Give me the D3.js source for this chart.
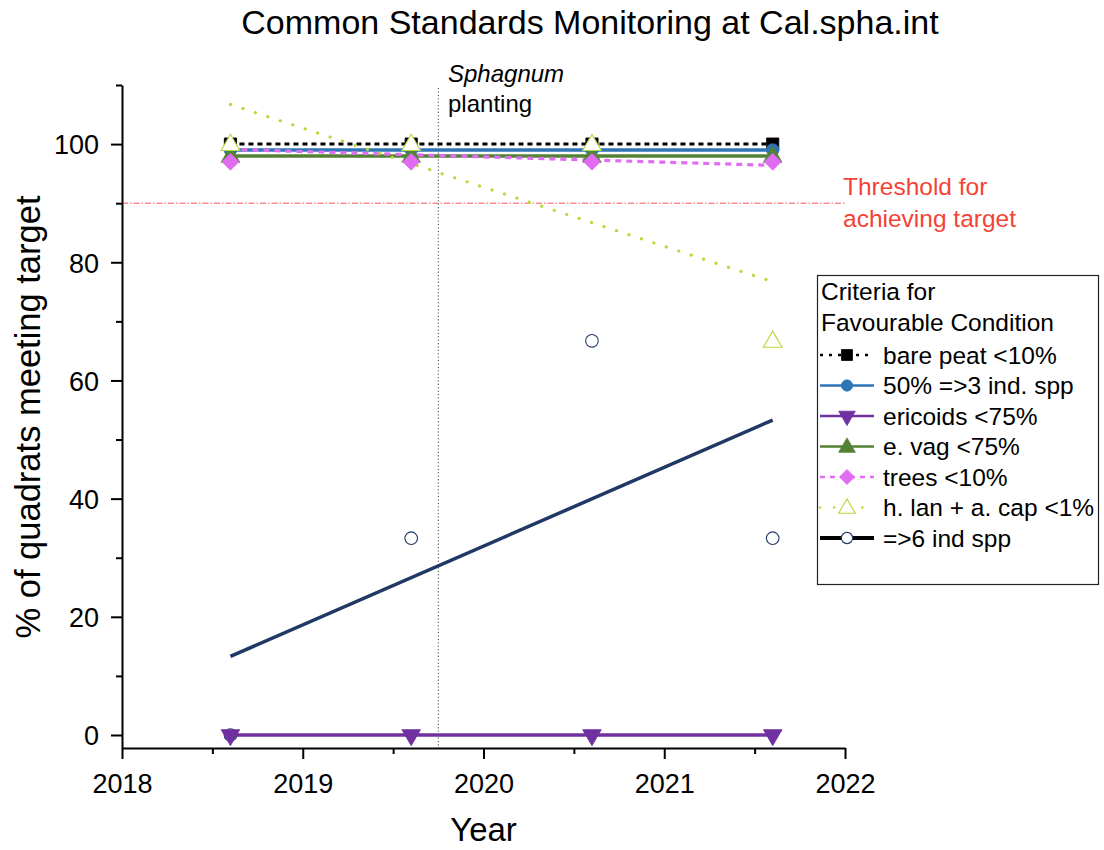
<!DOCTYPE html>
<html><head><meta charset="utf-8">
<script src="https://cdn.jsdelivr.net/npm/d3@7"></script>
<style>
html,body{margin:0;padding:0;background:#fff;}
svg{display:block;font-family:"Liberation Sans",Arial,sans-serif;}
</style></head>
<body>
<svg id="chart" width="1104" height="850"></svg>
<script>
// ---- data ----
const years = [2018.6, 2019.6, 2020.6, 2021.6];
const barePeat = [100, 100, 100, 100];
const threeIndSpp = [99, 99, 99, 99];
const ericoids = [0, 0, 0, 0];
const eVag = [98, 98, 98, 98];
const trees = [97, 97, 97, 97];
const hLanACap = [100, 100, 100, 66.7];
const sixIndSpp = [0, 33.3, 66.7, 33.3];
// fitted trend lines (endpoints at first/last survey)
const trendYears = [2018.6, 2021.6];
const treesTrend = [99.1, 96.4];
const hLanTrend = [106.7, 76.7];
const sixIndTrend = [13.3, 53.3];
const xTicks = [2018, 2019, 2020, 2021, 2022];
const xMinor = [2018.5, 2019.5, 2020.5, 2021.5];
const yTicks = [0, 20, 40, 60, 80, 100];
const yMinor = [10, 30, 50, 70, 90, 110];
const threshold = 90;
const plantingYear = 2019.75;
const legendNames = ["bare peat <10%", "50% =>3 ind. spp", "ericoids <75%", "e. vag <75%", "trees <10%", "h. lan + a. cap <1%", "=>6 ind spp"];

// ---- layout ----
const svg = d3.select("#chart");
const x = d3.scaleLinear().domain([2018, 2022]).range([122, 845]);
const y = d3.scaleLinear().domain([-2.2, 110]).range([748, 85]);

const series = [
  {name: legendNames[0], vals: barePeat, lx: years, ly: barePeat, color: "#000", dash: "5,4", lw: 3, shape: "square", fill: "#000", ld: "3,6", order: 1},
  {name: legendNames[1], vals: threeIndSpp, lx: years, ly: threeIndSpp, color: "#2e75b6", dash: null, lw: 3.5, shape: "circle", fill: "#2e75b6", order: 2},
  {name: legendNames[2], vals: ericoids, lx: years, ly: ericoids, color: "#7030a0", dash: null, lw: 3.5, shape: "tridown", fill: "#7030a0", order: 3},
  {name: legendNames[3], vals: eVag, lx: years, ly: eVag, color: "#548235", dash: null, lw: 3.5, shape: "triup", fill: "#548235", order: 4},
  {name: legendNames[4], vals: trees, lx: trendYears, ly: treesTrend, color: "#e06cf2", dash: "6,5", lw: 3.2, shape: "diamond", fill: "#e06cf2", ld: "5,5", order: 5},
  {name: legendNames[5], vals: hLanACap, lx: trendYears, ly: hLanTrend, color: "#b8d83a", dash: "0.1,13", lw: 3.2, shape: "triup", fill: "#fff", open: true, round: true, ld: "0.1,14", order: 6},
  {name: legendNames[6], vals: sixIndSpp, lx: trendYears, ly: sixIndTrend, color: "#203864", dash: null, lw: 3.5, shape: "circle", fill: "#fff", open: true, legendLine: "#000", legendLw: 4, order: 0}
];

function shapePath(shape, s) {
  const sym = {square: d3.symbolSquare, circle: d3.symbolCircle, triup: d3.symbolTriangle, tridown: d3.symbolTriangle, diamond: d3.symbolSquare}[shape];
  return d3.symbol().type(sym).size(s)();
}
function markerTransform(shape, cx, cy) {
  if (shape === "tridown") return `translate(${cx},${cy}) rotate(180)`;
  if (shape === "diamond") return `translate(${cx},${cy}) rotate(45)`;
  if (shape === "triup") return `translate(${cx},${cy + 1})`;
  return `translate(${cx},${cy})`;
}
const sizes = {square: 150, circle: 125, triup: 150, tridown: 150, diamond: 140};

// threshold line
svg.append("line").attr("x1", x(2018)).attr("x2", x(2022))
  .attr("y1", y(threshold)).attr("y2", y(threshold))
  .attr("stroke", "#f55").attr("stroke-width", 1).attr("stroke-dasharray", "6,2,1.5,2");

// planting line
svg.append("line").attr("x1", x(plantingYear)).attr("x2", x(plantingYear))
  .attr("y1", 88).attr("y2", y(-2.2))
  .attr("stroke", "#444").attr("stroke-width", 1).attr("stroke-dasharray", "1.2,2.2");

// axes
const gx = svg.append("g").attr("transform", `translate(0,${y(-2.2)})`);
gx.call(d3.axisBottom(x).tickValues(xTicks).tickFormat(d3.format("d")).tickSize(11).tickSizeOuter(0).tickPadding(8));
const gxm = svg.append("g").attr("transform", `translate(0,${y(-2.2)})`);
gxm.call(d3.axisBottom(x).tickValues(xMinor).tickFormat("").tickSize(6).tickSizeOuter(0));
gxm.select(".domain").remove();

const gy = svg.append("g").attr("transform", `translate(${x(2018)},0)`);
gy.call(d3.axisLeft(y).tickValues(yTicks).tickSize(11).tickSizeOuter(0).tickPadding(12));
const gym = svg.append("g").attr("transform", `translate(${x(2018)},0)`);
gym.call(d3.axisLeft(y).tickValues(yMinor).tickFormat("").tickSize(6).tickSizeOuter(0));
gym.select(".domain").remove();

svg.selectAll(".domain").attr("stroke", "#000").attr("stroke-width", 2);
svg.selectAll(".tick line").attr("stroke", "#000").attr("stroke-width", 2);
svg.selectAll(".tick text").attr("font-size", 27).attr("font-family", '"Liberation Sans",Arial,sans-serif').attr("fill", "#000");
gx.selectAll(".tick text").attr("dy", "0.95em");
gy.selectAll(".tick text").attr("dy", "0.36em");

// series lines
const line = d3.line().x(d => x(d[0])).y(d => y(d[1]));
series.forEach(s => {
  svg.append("path").datum(s.lx.map((xx, i) => [xx, s.ly[i]]))
    .attr("d", line).attr("fill", "none")
    .attr("stroke", s.color).attr("stroke-width", s.lw)
    .attr("stroke-dasharray", s.dash)
    .attr("stroke-linecap", s.round ? "round" : "butt");
});
// series markers
series.slice().sort((a, b) => a.order - b.order).forEach(s => {
  svg.append("g").selectAll("path").data(years.map((yr, i) => [yr, s.vals[i]]))
    .join("path")
    .attr("d", shapePath(s.shape, sizes[s.shape]))
    .attr("transform", d => markerTransform(s.shape, x(d[0]), y(d[1])))
    .attr("fill", s.fill)
    .attr("stroke", s.open ? s.color : s.fill)
    .attr("stroke-width", s.open ? 1.1 : 0.8);
});

// title & labels
svg.append("text").attr("x", 590).attr("y", 34).attr("text-anchor", "middle")
  .attr("font-size", 34).text("Common Standards Monitoring at Cal.spha.int");
svg.append("text").attr("transform", "translate(40,417) rotate(-90)").attr("text-anchor", "middle")
  .attr("font-size", 34.5).text("% of quadrats meeting target");
svg.append("text").attr("x", x(2020)).attr("y", 841).attr("text-anchor", "middle")
  .attr("font-size", 33).text("Year");

// annotations
svg.append("text").attr("x", 448).attr("y", 82).attr("font-size", 24).attr("font-style", "italic").text("Sphagnum");
svg.append("text").attr("x", 448).attr("y", 112).attr("font-size", 24).text("planting");
svg.append("text").attr("x", 843).attr("y", 195).attr("font-size", 24.5).attr("fill", "#f44336").text("Threshold for");
svg.append("text").attr("x", 843).attr("y", 227).attr("font-size", 24.5).attr("fill", "#f44336").text("achieving target");

// legend
const lg = svg.append("g");
lg.append("rect").attr("x", 817.5).attr("y", 275.5).attr("width", 281).attr("height", 309)
  .attr("fill", "#fff").attr("stroke", "#222").attr("stroke-width", 1.2);
lg.append("text").attr("x", 821).attr("y", 300).attr("font-size", 24.5).text("Criteria for");
lg.append("text").attr("x", 821).attr("y", 331).attr("font-size", 24.5).text("Favourable Condition");
series.forEach((s, i) => {
  const cy = 355 + i * 30.5;
  lg.append("line").attr("x1", 820).attr("x2", 874).attr("y1", cy).attr("y2", cy)
    .attr("stroke", s.legendLine || s.color).attr("stroke-width", s.legendLw || Math.min(s.lw, 2.5))
    .attr("stroke-dasharray", s.ld || null)
    .attr("stroke-linecap", s.round ? "round" : "butt");
  lg.append("path").attr("d", shapePath(s.shape, sizes[s.shape] * 0.8))
    .attr("transform", markerTransform(s.shape, 847, cy))
    .attr("fill", s.fill).attr("stroke", s.open ? s.color : s.fill).attr("stroke-width", s.open ? 1.1 : 0.8);
  lg.append("text").attr("x", 883).attr("y", cy).attr("dy", "0.35em").attr("font-size", 24.5).text(s.name);
});
</script>
</body></html>
